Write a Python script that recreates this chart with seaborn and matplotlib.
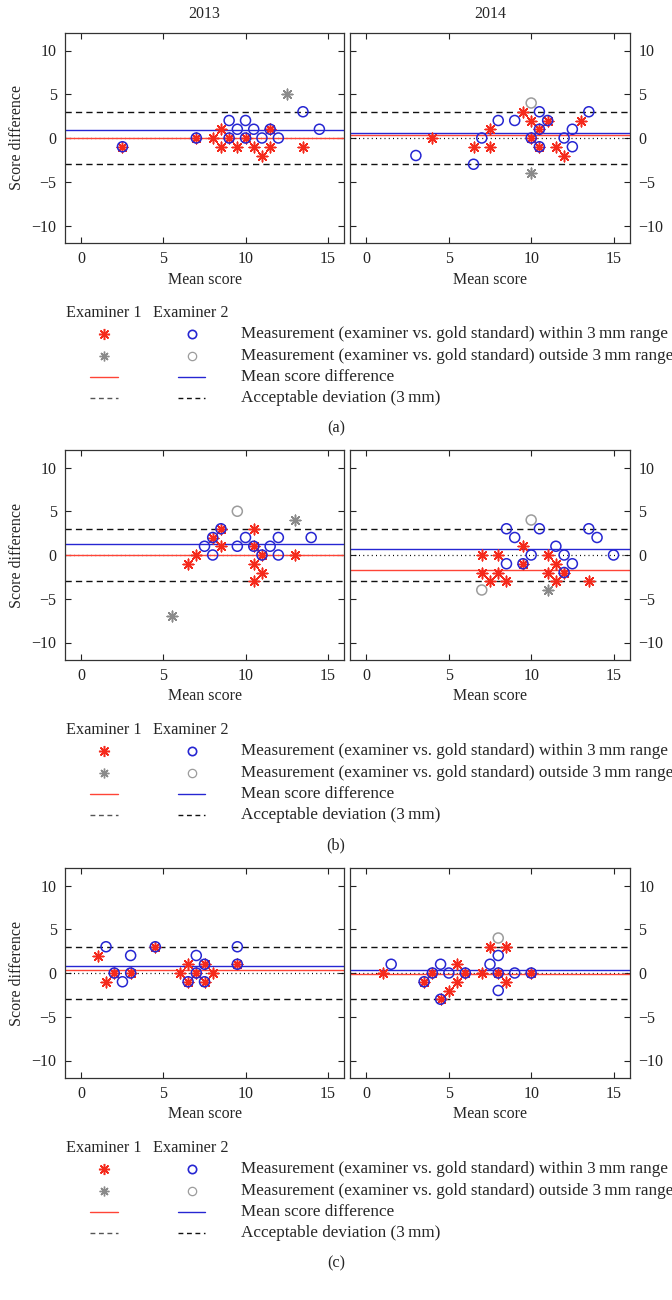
import matplotlib
matplotlib.use("Agg")
import matplotlib.pyplot as plt
import numpy as np
import pandas as pd
import seaborn as sns

years = ["2013", "2014"]
panel_tags = ["(a)", "(b)", "(c)"]

# row (a)
a13_ex1_x = [2.5, 7, 8, 8.5, 8.5, 9, 9.5, 10, 10.5, 11, 11.5, 11.5, 12.5, 13.5]
a13_ex1_y = [-1, 0, 0, 1, -1, 0, -1, 0, -1, -2, 1, -1, 5, -1]
a13_ex2_x = [2.5, 7, 9, 9, 9.5, 10, 10, 10.5, 11, 11.5, 12, 13.5, 14.5]
a13_ex2_y = [-1, 0, 2, 0, 1, 2, 0, 1, 0, 1, 0, 3, 1]
a14_ex1_x = [4, 6.5, 7.5, 7.5, 9.5, 10, 10, 10, 10.5, 10.5, 11, 11.5, 12, 13]
a14_ex1_y = [0, -1, 1, -1, 3, 2, 0, -4, 1, -1, 2, -1, -2, 2]
a14_ex2_x = [3, 6.5, 7, 8, 9, 10, 10, 10.5, 10.5, 10.5, 11, 12, 12.5, 12.5, 13.5]
a14_ex2_y = [-2, -3, 0, 2, 2, 4, 0, 3, 1, -1, 2, 0, 1, -1, 3]

# row (b)
b13_ex1_x = [5.5, 6.5, 7, 8, 8.5, 8.5, 10.5, 10.5, 10.5, 10.5, 11, 11, 13, 13]
b13_ex1_y = [-7, -1, 0, 2, 3, 1, 3, 1, -1, -3, 0, -2, 4, 0]
b13_ex2_x = [7.5, 8, 8, 8.5, 9.5, 9.5, 10, 10.5, 11, 11.5, 12, 12, 14]
b13_ex2_y = [1, 2, 0, 3, 5, 1, 2, 1, 0, 1, 2, 0, 2]
b14_ex1_x = [7, 7, 7.5, 8, 8, 8.5, 9.5, 9.5, 11, 11, 11, 11.5, 11.5, 12, 13.5]
b14_ex1_y = [0, -2, -3, 0, -2, -3, 1, -1, 0, -2, -4, -1, -3, -2, -3]
b14_ex2_x = [7, 8.5, 8.5, 9, 9.5, 10, 10, 10.5, 11.5, 12, 12, 12.5, 13.5, 14, 15]
b14_ex2_y = [-4, 3, -1, 2, -1, 4, 0, 3, 1, 0, -2, -1, 3, 2, 0]

# row (c)
c13_ex1_x = [1, 1.5, 2, 3, 4.5, 6, 6.5, 6.5, 7, 7.5, 7.5, 8, 9.5]
c13_ex1_y = [2, -1, 0, 0, 3, 0, 1, -1, 0, 1, -1, 0, 1]
c13_ex2_x = [1.5, 2, 2.5, 3, 3, 4.5, 6.5, 7, 7, 7.5, 7.5, 9.5, 9.5]
c13_ex2_y = [3, 0, -1, 2, 0, 3, -1, 2, 0, 1, -1, 3, 1]
c14_ex1_x = [1, 3.5, 4, 4.5, 5, 5.5, 5.5, 6, 7, 7.5, 8, 8.5, 8.5, 10]
c14_ex1_y = [0, -1, 0, -3, -2, 1, -1, 0, 0, 3, 0, 3, -1, 0]
c14_ex2_x = [1.5, 3.5, 4, 4.5, 4.5, 5, 6, 7.5, 8, 8, 8, 8, 9, 10]
c14_ex2_y = [1, -1, 0, 1, -3, 0, 0, 1, 4, 2, 0, -2, 0, 0]

# mean score difference per row, [2013, 2014]
mean_ex1 = [[-0.05, 0.3], [0.0, -1.7], [0.4, -0.1]]
mean_ex2 = [[0.9, 0.6], [1.3, 0.7], [0.85, 0.4]]
limit = 3

legend_labels = [
    "Measurement (examiner vs. gold standard) within 3\u2009mm range",
    "Measurement (examiner vs. gold standard) outside 3\u2009mm range",
    "Mean score difference",
    "Acceptable deviation (3\u2009mm)",
]

panels = [
    [(a13_ex1_x, a13_ex1_y, a13_ex2_x, a13_ex2_y), (a14_ex1_x, a14_ex1_y, a14_ex2_x, a14_ex2_y)],
    [(b13_ex1_x, b13_ex1_y, b13_ex2_x, b13_ex2_y), (b14_ex1_x, b14_ex1_y, b14_ex2_x, b14_ex2_y)],
    [(c13_ex1_x, c13_ex1_y, c13_ex2_x, c13_ex2_y), (c14_ex1_x, c14_ex1_y, c14_ex2_x, c14_ex2_y)],
]

RED = "#f52a1c"
RED_LINE = "#ff4436"
BLUE = "#2626d2"
GRAY_STAR = "#8a8a8a"
GRAY_CIRC = "#9c9c9c"
STAR = (8, 2, 0)

sns.set_theme(style="ticks")
plt.rcParams["font.family"] = ["Liberation Serif", "DejaVu Serif"]
plt.rcParams["axes.unicode_minus"] = True

W, H = 672, 1300
fig = plt.figure(figsize=(W / 100, H / 100), dpi=100)


def px_axes(x0, y0, w, h, **kw):
    return fig.add_axes([x0 / W, 1 - (y0 + h) / H, w / W, h / H], **kw)


row_tops = [33, 450, 868]
col_lefts = [65, 350]
col_widths = [279, 280]
ax_h = 210

for r, row in enumerate(panels):
    for c, (x1, y1, x2, y2) in enumerate(row):
        ax = px_axes(col_lefts[c], row_tops[r], col_widths[c], ax_h)
        d1 = pd.DataFrame({"x": x1, "y": y1})
        d2 = pd.DataFrame({"x": x2, "y": y2})
        d1["out"] = d1["y"].abs() > limit
        d2["out"] = d2["y"].abs() > limit

        ax.axhline(0, color="black", lw=0.9, ls=(0, (0.8, 2.6)), zorder=1)
        ax.axhline(limit, color="#111111", lw=1.0, ls=(0, (4.5, 3.0)), zorder=1)
        ax.axhline(-limit, color="#111111", lw=1.0, ls=(0, (4.5, 3.0)), zorder=1)
        ax.axhline(mean_ex1[r][c], color=RED_LINE, lw=1.0, zorder=2)
        ax.axhline(mean_ex2[r][c], color=BLUE, lw=1.0, zorder=2)

        sns.scatterplot(data=d1[~d1["out"]], x="x", y="y", ax=ax, marker=STAR,
                        color=RED, s=58, linewidth=1.1, zorder=3)
        sns.scatterplot(data=d1[d1["out"]], x="x", y="y", ax=ax, marker=STAR,
                        color=GRAY_STAR, s=58, linewidth=1.1, zorder=3)
        sns.scatterplot(data=d2[~d2["out"]], x="x", y="y", ax=ax, marker="o",
                        facecolor="none", edgecolor=BLUE, s=52, linewidth=1.1, zorder=4)
        sns.scatterplot(data=d2[d2["out"]], x="x", y="y", ax=ax, marker="o",
                        facecolor="none", edgecolor=GRAY_CIRC, s=52, linewidth=1.1, zorder=4)

        ax.set_xlim(-1, 16)
        ax.set_ylim(-12, 12)
        ax.set_xticks([0, 5, 10, 15])
        ax.set_yticks([-10, -5, 0, 5, 10])
        ax.tick_params(direction="in", top=True, right=True, length=4, width=0.8,
                       labelsize=11.5, pad=6, colors="#222222")
        for sp in ax.spines.values():
            sp.set_color("#333333")
            sp.set_linewidth(0.9)
        ax.set_xlabel("Mean score", fontsize=11.5, labelpad=3)
        if c == 0:
            ax.set_ylabel("Score difference", fontsize=11.5, labelpad=5)
        else:
            ax.set_ylabel("")
            ax.tick_params(labelleft=False, labelright=True)
        if r == 0:
            ax.set_title(years[c], fontsize=11.5, pad=11)

# legend blocks, drawn in figure pixel space
lg = px_axes(0, 0, W, H, zorder=-1)
lg.set_xlim(0, W)
lg.set_ylim(H, 0)
lg.axis("off")

key_x = [104, 192]
seg_x = [(90, 118), (178, 205)]
for r in range(3):
    base = row_tops[r] + ax_h
    y_head = base + 70
    rows_y = [base + 91, base + 113, base + 134, base + 155]
    lg.text(66, y_head, "Examiner 1", fontsize=11.7, va="center", ha="left")
    lg.text(153, y_head, "Examiner 2", fontsize=11.7, va="center", ha="left")
    lg.plot(key_x[0], rows_y[0], marker=STAR, ms=8, mew=1.1, color=RED, ls="none")
    lg.plot(key_x[0], rows_y[1], marker=STAR, ms=7, mew=1.0, color=GRAY_STAR, ls="none")
    lg.plot(key_x[1], rows_y[0], marker="o", ms=6, mew=1.2, mfc="none", mec=BLUE, ls="none")
    lg.plot(key_x[1], rows_y[1], marker="o", ms=6, mew=0.9, mfc="none", mec=GRAY_CIRC, ls="none")
    lg.plot(seg_x[0], [rows_y[2]] * 2, color=RED_LINE, lw=1.0)
    lg.plot(seg_x[1], [rows_y[2]] * 2, color=BLUE, lw=1.0)
    lg.plot(seg_x[0], [rows_y[3]] * 2, color="#555555", lw=1.0, ls=(0, (3.5, 2.6)))
    lg.plot(seg_x[1], [rows_y[3]] * 2, color="#111111", lw=1.0, ls=(0, (3.5, 2.6)))
    for yy, lab in zip(rows_y, legend_labels):
        lg.text(241, yy, lab, fontsize=12.3, va="center", ha="left")
    lg.text(336, base + 185, panel_tags[r], fontsize=11.7, va="center", ha="center")

fig.savefig("out.png", dpi=100)
